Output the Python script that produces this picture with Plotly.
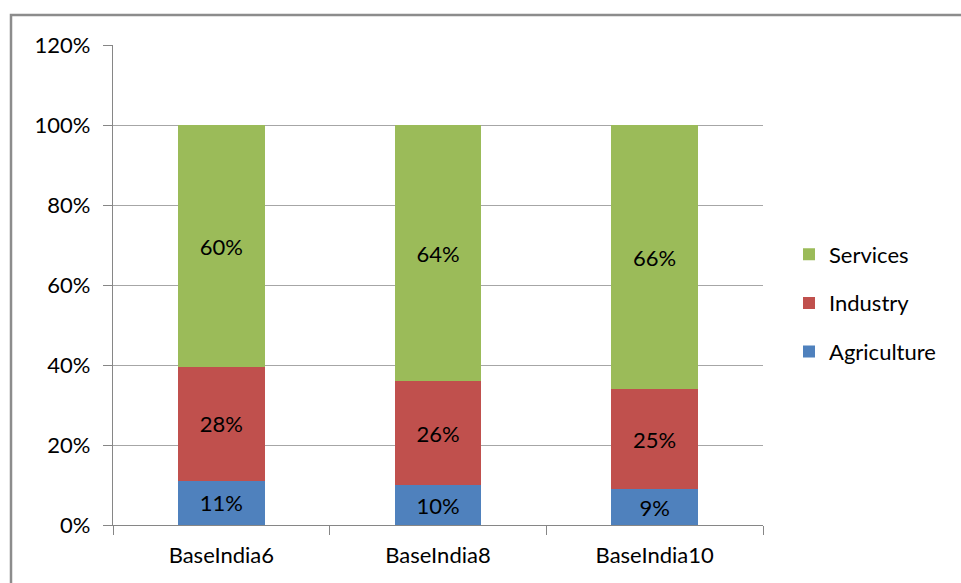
import plotly.graph_objects as go

# Sector shares of output by scenario (percent)
scenarios = ["BaseIndia6", "BaseIndia8", "BaseIndia10"]
agriculture = [11, 10, 9]
industry = [28, 26, 25]
services = [60, 64, 66]

y_ticks = [0, 20, 40, 60, 80, 100, 120]
y_tick_labels = [f"{v}%" for v in y_ticks]

FONT = "Lato"
FS = 22
colors = {"Agriculture": "#4F81BD", "Industry": "#C0504D", "Services": "#9BBB59"}
legend_rank = {"Services": 1, "Industry": 2, "Agriculture": 3}

fig = go.Figure()
for name, vals in [("Agriculture", agriculture), ("Industry", industry), ("Services", services)]:
    fig.add_trace(go.Bar(
        x=scenarios, y=vals, name=name,
        marker=dict(color=colors[name], line=dict(width=0)),
        text=[f"{v}%" for v in vals],
        textposition="inside", insidetextanchor="middle",
        textfont=dict(family=FONT, size=FS, color="#000000"),
        legendgroup=name, legendrank=legend_rank[name],
        hoverinfo="skip",
    ))

fig.update_layout(
    width=961, height=583,
    margin=dict(l=113, r=198, t=45, b=58),
    barmode="stack", barnorm="percent", bargap=0.6,
    plot_bgcolor="white", paper_bgcolor="white",
    font=dict(family=FONT, size=FS, color="#000000"),
    showlegend=True,
    legend=dict(
        traceorder="grouped", tracegroupgap=17,
        x=1.04, xanchor="left", xref="paper", y=0.4625, yanchor="middle",
        font=dict(family=FONT, size=FS, color="#000000"),
        itemwidth=30, bgcolor="rgba(0,0,0,0)",
    ),
    xaxis=dict(
        type="category", tickson="boundaries", ticks="outside", ticklen=9,
        tickcolor="#868686", tickwidth=1.3, ticklabelstandoff=10,
        showline=True, linecolor="#868686", linewidth=1.3,
        showgrid=False, tickfont=dict(family=FONT, size=FS),
    ),
    yaxis=dict(
        range=[0, 120], tickvals=y_ticks, ticktext=y_tick_labels,
        ticks="outside", ticklen=9, tickcolor="#868686", tickwidth=1.3,
        ticklabelstandoff=8,
        showline=True, linecolor="#868686", linewidth=1.3,
        showgrid=True, gridcolor="#A6A6A6", gridwidth=1.3,
        zeroline=False, tickfont=dict(family=FONT, size=FS),
    ),
    shapes=[dict(
        type="rect", xref="paper", yref="paper",
        x0=(11 - 113) / 650, x1=1.5, y0=-0.5, y1=(525 - 15) / 480,
        line=dict(color="#8C8C8C", width=2.5), fillcolor="rgba(0,0,0,0)",
        layer="below",
    )],
)

fig.write_html("out.html")
